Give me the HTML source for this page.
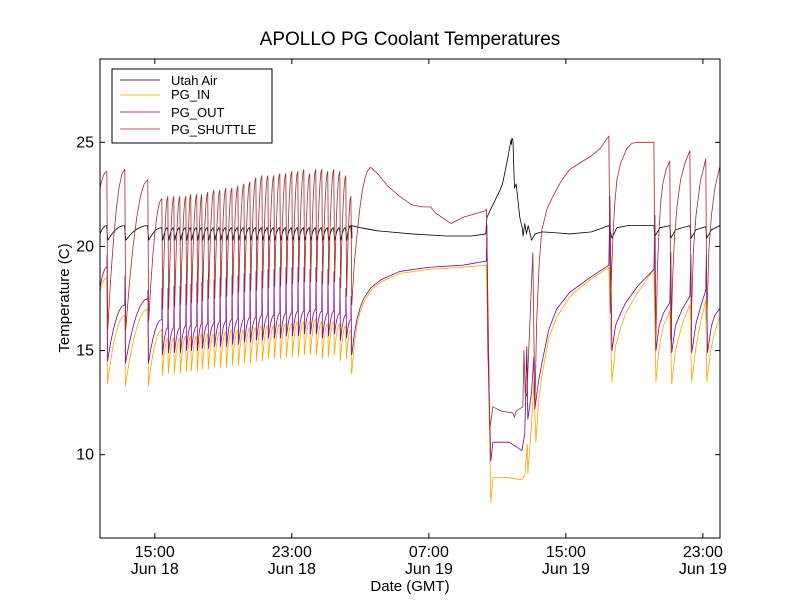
<!DOCTYPE html>
<html><head><meta charset="utf-8"><style>
body{margin:0;background:#fff;}
svg text{font-family:"Liberation Sans","DejaVu Sans",sans-serif;}
</style></head><body>
<svg id="chart" width="800" height="600" viewBox="0 0 800 600" xmlns="http://www.w3.org/2000/svg">
<rect x="0" y="0" width="800" height="600" fill="#fff"/>
<text x="410" y="45" font-size="19" text-anchor="middle">APOLLO PG Coolant Temperatures</text>
<text x="410" y="591" font-size="15" text-anchor="middle">Date (GMT)</text>
<text x="69" y="298" font-size="15" text-anchor="middle" transform="rotate(-90 69 298)">Temperature (C)</text>
<g id="series"></g>
<g id="axes"></g>
<rect x="100" y="59" width="620" height="479" fill="none" stroke="#000" stroke-width="1"/>
<g>
<rect x="112" y="69" width="160" height="74" fill="#fff" stroke="#000" stroke-width="1"/>
<line x1="120" y1="80" x2="160" y2="80" stroke="#000" stroke-width="0.8"/>
<text x="171" y="85" font-size="13">Utah Air</text>
<line x1="120" y1="95" x2="160" y2="95" stroke="#FFA500" stroke-width="0.8"/>
<text x="171" y="99" font-size="13">PG_IN</text>
<line x1="120" y1="112" x2="160" y2="112" stroke="#800080" stroke-width="0.8"/>
<text x="171" y="117" font-size="13">PG_OUT</text>
<line x1="120" y1="129" x2="160" y2="129" stroke="#A52A2A" stroke-width="0.8"/>
<text x="171" y="134" font-size="13">PG_SHUTTLE</text>
</g>
</svg>
<script>
// time in hours since Jun 18 00:00 GMT
const yTicks = [10, 15, 20, 25];
const xTicks = [15, 23, 31, 39, 47];
const xTickTime = ["15:00", "23:00", "07:00", "15:00", "23:00"];
const xTickDate = ["Jun 18", "Jun 18", "Jun 19", "Jun 19", "Jun 19"];
const startVals = {air: 20.6, pgIn: 17.8, pgOut: 18.0, shuttle: 22.8};
const cycleTimes = [12.20,13.25,14.59,15.41,15.76,16.11,16.46,16.81,17.10,17.45,17.74,18.09,18.45,18.80,19.15,19.50,19.85,20.20,20.55,20.90,21.25,21.60,21.95,22.30,22.65,23.00,23.35,23.70,24.05,24.40,24.75,25.10,25.45,25.80,26.15,26.45];
const shPeak = [23.6,23.7,23.2,22.3,22.4,22.4,22.4,22.4,22.5,22.5,22.5,22.6,22.7,22.7,22.8,22.8,22.9,23.0,23.1,23.3,23.4,23.4,23.4,23.5,23.5,23.6,23.6,23.7,23.5,23.7,23.7,23.6,23.7,23.6,23.4,22.4];
const shTrough = [16.0,16.0,16.4,17.0,17.0,17.1,17.2,17.2,17.3,17.3,17.4,17.5,17.5,17.6,17.6,17.7,17.8,17.8,17.9,17.9,18.0,18.0,18.1,18.1,18.2,18.2,18.3,18.3,18.3,18.3,18.2,18.2,18.3,18.0,17.6,17.2];
const inPeak = [18.5,16.7,17.0,16.0,15.6,15.6,15.6,15.7,15.7,15.7,15.8,15.8,15.8,15.9,15.9,16.0,16.0,16.0,16.1,16.1,16.2,16.2,16.2,16.3,16.3,16.3,16.4,16.4,16.4,16.5,16.4,16.3,16.4,16.3,16.2,16.0];
const inTrough = [13.4,13.3,13.3,13.8,13.9,13.9,13.9,14.0,14.0,14.0,14.1,14.1,14.2,14.2,14.2,14.3,14.3,14.4,14.4,14.5,14.5,14.6,14.6,14.6,14.7,14.7,14.7,14.8,14.8,14.8,14.6,14.7,14.8,14.5,14.6,13.9];
const outPeak = [19.0,17.2,17.5,16.5,16.1,16.1,16.1,16.2,16.2,16.2,16.3,16.3,16.3,16.4,16.4,16.5,16.5,16.5,16.6,16.6,16.7,16.7,16.7,16.8,16.8,16.8,16.9,16.9,16.9,17.0,16.9,16.8,16.9,16.8,16.7,16.5];
const outSpike = [19.6,18.6,17.9,18.0,18.0,18.1,18.1,18.2,18.2,18.3,18.3,18.4,18.4,18.5,18.5,18.6,18.6,18.7,18.7,18.8,18.8,18.9,18.9,19.0,19.0,19.0,19.0,19.0,18.9,19.0,18.8,18.9,18.8,18.5,18.0,17.6];
const outTrough = [14.5,14.4,14.4,14.8,14.9,14.9,14.9,15.0,15.0,15.0,15.1,15.1,15.2,15.2,15.2,15.3,15.3,15.4,15.4,15.5,15.5,15.6,15.6,15.6,15.7,15.7,15.7,15.8,15.8,15.8,15.6,15.7,15.8,15.5,15.6,14.8];
const airBase = [21.0,21.0,21.0,20.9,20.9,20.9,20.9,20.9,20.9,20.9,20.9,20.9,20.9,20.9,20.9,20.9,20.9,20.9,20.9,20.9,20.9,20.9,20.9,20.9,20.9,20.9,20.9,20.9,20.9,20.9,20.9,20.9,20.9,20.9,20.9,21.0];
const airDip = [20.3,20.3,20.3,20.3,20.3,20.3,20.3,20.3,20.3,20.3,20.3,20.3,20.3,20.3,20.3,20.3,20.3,20.3,20.3,20.3,20.3,20.3,20.3,20.3,20.3,20.3,20.3,20.3,20.3,20.3,20.3,20.3,20.3,20.3,20.3,20.4];
const shPost = [[26.5,17.2],[26.65,19.2],[26.8,20.5],[26.95,21.7],[27.1,22.6],[27.25,23.2],[27.4,23.6],[27.6,23.8],[28.0,23.5],[28.6,22.9],[29.3,22.4],[30.0,22.0],[30.6,21.9],[31.1,21.9],[31.4,21.6],[32.3,21.1],[33.0,21.4],[34.27,21.7],[34.36,21.8],[34.39,20.5],[34.56,11.2],[34.74,12.3],[35.2,12.1],[35.9,12.0],[36.0,11.8],[36.1,12.1],[36.49,12.3],[36.55,15.0],[36.63,13.0],[36.72,12.8],[37.07,19.7],[37.19,12.3],[37.3,16.5],[37.45,19.3],[37.6,20.8],[37.9,21.8],[38.24,22.4],[38.7,23.1],[39.23,23.7],[39.8,24.0],[40.4,24.3],[41.0,24.7],[41.51,25.3],[41.6,16.8],[41.68,19.0],[41.75,20.5],[41.85,22.0],[41.98,23.2],[42.2,24.0],[42.56,24.7],[42.85,24.95],[43.15,25.0],[44.14,25.0],[44.2,18.1],[44.26,15.7],[44.35,19.0],[44.45,21.0],[44.55,22.2],[44.66,23.0],[44.85,23.7],[45.07,24.1],[45.13,15.5],[45.24,18.6],[45.35,20.5],[45.5,22.0],[45.7,23.2],[45.95,24.0],[46.24,24.6],[46.32,16.5],[46.45,19.8],[46.6,21.5],[46.85,23.1],[47.17,24.2],[47.23,16.5],[47.35,19.8],[47.5,21.5],[47.7,22.8],[47.98,23.8]];
const inPost = [[26.5,13.9],[26.65,15.3],[26.8,16.2],[27.0,16.9],[27.2,17.3],[27.6,17.9],[28.2,18.3],[29.3,18.7],[31.0,18.9],[33.0,19.0],[34.36,19.1],[34.45,15],[34.62,7.7],[34.74,8.9],[35.5,8.9],[36.43,8.8],[36.6,9.0],[36.75,10.5],[36.78,9.1],[37.0,11.5],[37.13,13.5],[37.25,10.6],[37.4,12.5],[37.6,13.8],[38.0,15.6],[38.47,16.6],[39.23,17.6],[40.4,18.4],[41.51,19.0],[41.69,13.5],[41.9,15.2],[42.2,16.1],[42.5,16.8],[43.2,17.8],[44.14,18.9],[44.26,13.5],[44.45,15.2],[44.7,16.2],[45.07,16.9],[45.18,13.4],[45.4,15.0],[45.8,16.3],[46.24,17.2],[46.35,13.5],[46.6,15.2],[46.9,16.5],[47.17,17.4],[47.23,13.5],[47.45,15.0],[47.7,15.9],[47.98,16.6]];
const outPost = [[26.5,14.8],[26.65,15.8],[26.8,16.5],[27.0,17.1],[27.2,17.5],[27.6,18.0],[28.2,18.4],[29.3,18.8],[31.0,19.0],[33.0,19.1],[34.36,19.3],[34.39,21.0],[34.45,15],[34.62,9.7],[34.74,10.6],[35.7,10.6],[36.43,10.2],[36.6,11.0],[36.72,15.2],[36.78,11.7],[37.0,13.0],[37.13,14.7],[37.19,12.2],[37.4,13.5],[37.6,14.4],[38.0,16.0],[38.47,17.0],[39.23,17.8],[40.4,18.5],[41.51,19.1],[41.57,22.4],[41.69,15.0],[41.9,16.2],[42.2,16.8],[42.5,17.3],[43.2,18.1],[44.14,18.9],[44.2,21.5],[44.26,15.0],[44.45,16.2],[44.7,16.8],[45.07,17.3],[45.13,19.7],[45.18,14.9],[45.4,16.2],[45.8,17.0],[46.24,17.6],[46.3,19.6],[46.35,14.9],[46.6,16.3],[46.9,17.2],[47.17,17.9],[47.2,19.6],[47.27,14.9],[47.5,16.2],[47.7,16.7],[47.98,17.0]];
const airPost = [[26.5,21.0],[27.0,20.9],[28.0,20.75],[30.0,20.6],[32.0,20.5],[33.5,20.5],[34.33,20.6],[34.39,21.4],[34.8,22.1],[35.15,22.7],[35.3,23.0],[35.55,24.0],[35.8,25.1],[35.82,24.9],[35.85,25.2],[35.91,25.1],[36.0,22.8],[36.1,23.0],[36.31,21.4],[36.45,20.9],[36.5,20.5],[36.6,21.1],[36.7,20.6],[36.8,21.0],[37.0,20.3],[37.2,20.6],[37.6,20.7],[38.5,20.65],[39.23,20.6],[40.5,20.7],[41.51,21.0],[41.69,20.4],[41.98,20.9],[42.6,21.0],[44.14,21.0],[44.2,20.5],[44.5,20.9],[45.07,21.0],[45.13,20.4],[45.4,20.8],[46.24,21.0],[46.32,20.4],[46.6,20.8],[47.17,20.95],[47.23,20.4],[47.5,20.8],[47.98,21.0]];

const T0 = 11.8, T1 = 48.0, V0 = 6, V1 = 29;
const L = 100, R = 720, TOP = 59, BOT = 538;
function xS(t){ return L + (t - T0) * (R - L) / (T1 - T0); }
function yS(v){ return BOT - (v - V0) * (BOT - TOP) / (V1 - V0); }
const NS = "http://www.w3.org/2000/svg";

function curveTo(pts, tb, vb){
  const [ta, va] = pts[pts.length - 1];
  for (let k = 1; k <= 6; k++){
    const f = k / 6;
    pts.push([ta + (tb - ta) * f, va + (vb - va) * (1 - (1 - f) * (1 - f))]);
  }
}
function build(start, steps, post){
  const pts = [[T0, start]];
  for (let i = 0; i < cycleTimes.length; i++) steps(pts, i, cycleTimes[i]);
  post.forEach(p => pts.push(p));
  return pts;
}
const airPts = build(startVals.air, (p, i, t) => { curveTo(p, t - 0.02, airBase[i]); p.push([t + 0.06, airDip[i]]); }, airPost);
const inPts = build(startVals.pgIn, (p, i, t) => { curveTo(p, t, inPeak[i]); p.push([t + 0.03, inTrough[i]]); }, inPost);
const outPts = build(startVals.pgOut, (p, i, t) => { curveTo(p, t, outPeak[i]); p.push([t + 0.01, outSpike[i]]); p.push([t + 0.04, outTrough[i]]); }, outPost);
const shPts = build(startVals.shuttle, (p, i, t) => { curveTo(p, t, shPeak[i]); p.push([t + 0.05, shTrough[i]]); }, shPost);

const g = document.getElementById('series');
function line(pts, color, name){
  const pl = document.createElementNS(NS, 'polyline');
  pl.setAttribute('points', pts.map(p => xS(p[0]).toFixed(2) + ',' + yS(p[1]).toFixed(2)).join(' '));
  pl.setAttribute('fill', 'none');
  pl.setAttribute('stroke', color);
  pl.setAttribute('stroke-width', '0.8');
  pl.setAttribute('stroke-linejoin', 'round');
  
  
  g.appendChild(pl);
}
line(airPts, '#000000', 'utah-air-line');
line(inPts, '#FFA500', 'pg-in-line');
line(outPts, '#800080', 'pg-out-line');
line(shPts, '#A52A2A', 'pg-shuttle-line');

const ax = document.getElementById('axes');
function mk(tag, attrs, name, text){
  const e = document.createElementNS(NS, tag);
  for (const k in attrs) e.setAttribute(k, attrs[k]);
  
  
  if (text !== undefined) e.textContent = text;
  ax.appendChild(e);
  return e;
}
yTicks.forEach(v => {
  const y = yS(v);
  mk('line', {x1: L, y1: y, x2: L + 5, y2: y, stroke: '#000'}, 'y-tick');
  mk('line', {x1: R - 5, y1: y, x2: R, y2: y, stroke: '#000'}, 'y-tick-right');
  mk('text', {x: L - 6, y: y + 5, 'font-size': 16, 'text-anchor': 'end'}, 'y-tick-label', String(v));
});
xTicks.forEach((t, i) => {
  const x = xS(t);
  mk('line', {x1: x, y1: BOT, x2: x, y2: BOT - 5, stroke: '#000'}, 'x-tick');
  mk('line', {x1: x, y1: TOP, x2: x, y2: TOP + 5, stroke: '#000'}, 'x-tick-top');
  mk('text', {x: x, y: BOT + 19, 'font-size': 16, 'text-anchor': 'middle'}, 'x-tick-label-time', xTickTime[i]);
  mk('text', {x: x, y: BOT + 36, 'font-size': 16, 'text-anchor': 'middle'}, 'x-tick-label-date', xTickDate[i]);
});
</script>
</body></html>
